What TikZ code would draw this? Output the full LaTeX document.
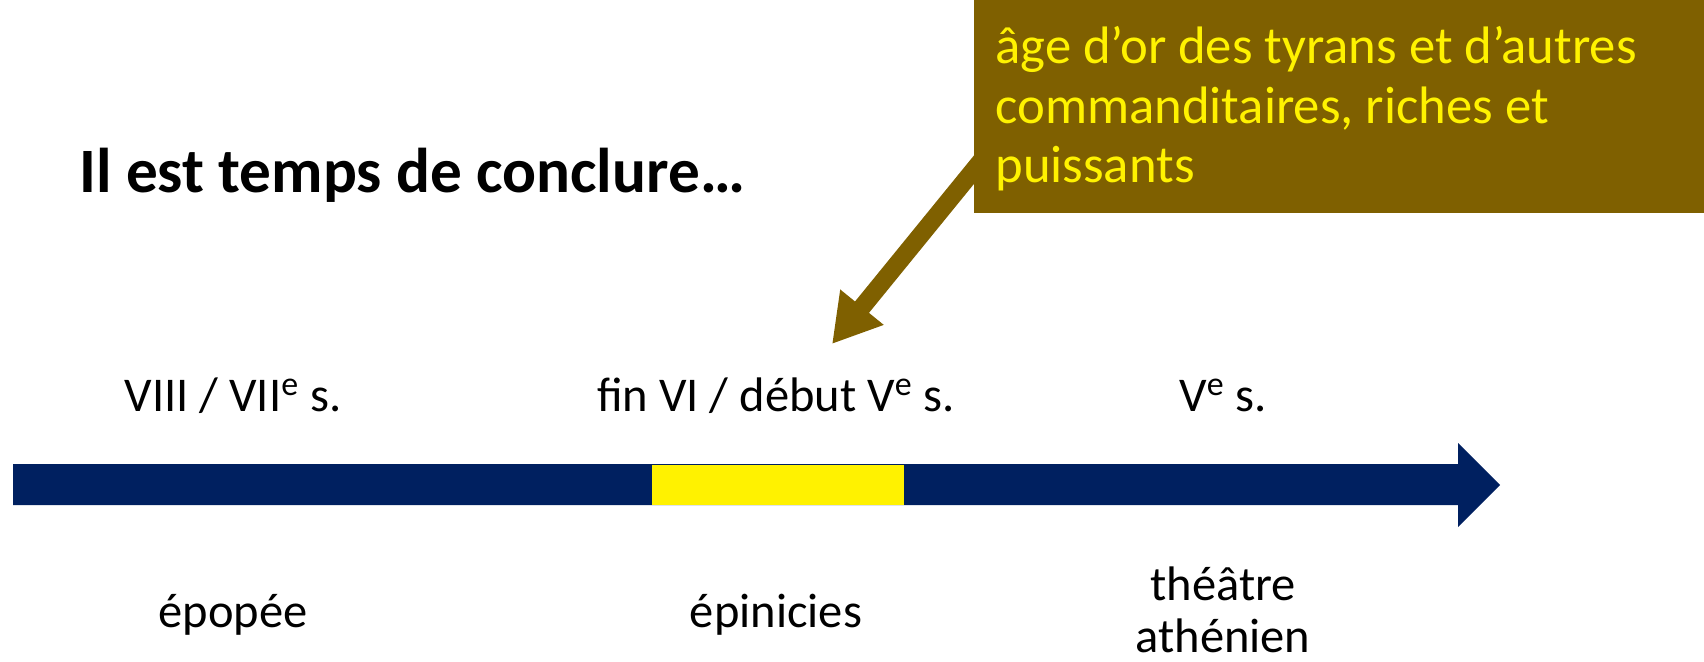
\documentclass[tikz,border=0pt]{standalone}
\usepackage{fontspec}
\setmainfont{Carlito}
\usetikzlibrary{arrows.meta}
\definecolor{barblue}{HTML}{002060}
\definecolor{olive}{HTML}{7F6000}

\begin{document}
\begin{tikzpicture}[x=0.02cm, y=-0.02cm,
		label/.style = {font=\fontsize{27.6}{29.5}\selectfont, align=center, anchor=base, inner sep=0pt},
		note/.style = {text=yellow, font=\fontsize{30}{34}\selectfont, align=left, anchor=base west, inner sep=0pt}]
	\useasboundingbox (0,0) rectangle (1704,662);
	\node[font=\fontsize{36}{43}\selectfont\bfseries, anchor=base west, inner sep=0pt] (title) at (79,193) {Il est temps de conclure…};
	% timeline
	\fill[barblue] (13,464) -- (1458,464) -- (1458,443) -- (1500,485) -- (1458,527) -- (1458,505) -- (13,505) -- cycle;
	\fill[yellow] (652,465) rectangle (904,505);
	\node[label] (p1) at (233,411) {VIII / VII\textsuperscript{e} s.};
	\node[label] (p2) at (776,411) {fin VI / début V\textsuperscript{e} s.};
	\node[label] (p3) at (1223,411) {V\textsuperscript{e} s.};
	\node[label] (g1) at (233,627) {épopée};
	\node[label] (g2) at (776,627) {épinicies};
	\node[label] (g3) at (1223,652) {théâtre\\athénien};
	% note
	\coordinate (tip) at (832,344);
	\draw[olive, line width=0.36cm, -{Triangle[width=1.05cm, length=0.95cm]}] (990,150) -- (tip);
	\fill[olive] (974,0) rectangle (1704,213);
	\node[note] (box) at (995,183) {âge d’or des tyrans et d’autres\\commanditaires, riches et\\puissants};
\end{tikzpicture}
\end{document}
